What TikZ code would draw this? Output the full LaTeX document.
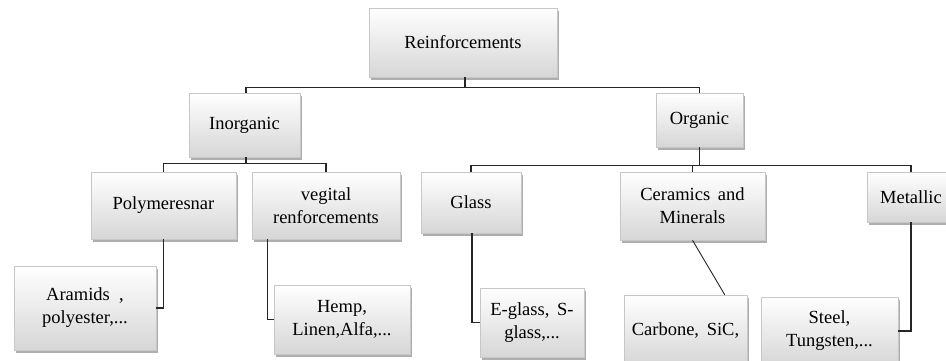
\documentclass[tikz,border=0pt]{standalone}
\usepackage{fontspec}
\setmainfont{Liberation Serif}
\usetikzlibrary{shadows}
\begin{document}
\begin{tikzpicture}[x=1pt,y=-1pt,
  box/.style={draw=black!22, line width=0.5pt, top color=white, bottom color=black!16,
    align=center, inner sep=2pt,
    font=\fontsize{18.5}{23}\selectfont,
    drop shadow={shadow xshift=1.5pt, shadow yshift=-3pt, opacity=0.45, fill=black!70}},
  link/.style={draw=black!85, line width=1.2pt}]
\clip (0,0) rectangle (946,360);
\fill[white] (0,0) rectangle (946,360);

% level 1
\node[box, minimum width=188pt, minimum height=69pt] (R) at (463,42.5) {Reinforcements};
% level 2
\node[box, minimum width=111pt, minimum height=64pt] (I) at (244.5,125) {Inorganic};
\node[box, minimum width=87pt, minimum height=54pt] (O) at (699.5,120) {Organic};
% level 3
\node[box, minimum width=145pt, minimum height=67pt] (P) at (163.5,205.5) {Polymeresnar};
\node[box, minimum width=148pt, minimum height=67pt] (V) at (326,205.5) {vegital\\renforcements};
\node[box, minimum width=100pt, minimum height=61pt] (G) at (471,202.5) {Glass};
\node[box, minimum width=145pt, minimum height=68pt] (C) at (692.5,206) {Ceramics\, and\\Minerals};
\node[box, minimum width=88pt, minimum height=50pt] (M) at (911,197) {Metallic};
% level 4
\node[box, minimum width=142pt, minimum height=84pt] (A) at (85,308) {Aramids\ \ ,\\polyester,...};
\node[box, minimum width=136pt, minimum height=69pt] (H) at (342,319.5) {Hemp,\\Linen,Alfa,...};
\node[box, minimum width=104pt, minimum height=69pt] (E) at (532,322.5) {E-glass,\, S-\\glass,...};
\node[box, minimum width=123pt, minimum height=70pt] (K) at (685.5,330) {Carbone,\, SiC,};
\node[box, minimum width=137pt, minimum height=68pt] (S) at (829.5,331) {Steel,\\Tungsten,...};

% tree connectors
\draw[link] ([xshift=2pt]R.south) -- ++(0,10) coordinate (r1);
\draw[link] ([xshift=1.5pt]I.north) |- (r1) -| (O.north);
\draw[link] ([xshift=1.5pt]I.south) -- ++(0,6) coordinate (i1);
\draw[link] (P.north) |- (i1) -| (V.north);
\draw[link] (O.south) -- ++(0,18) coordinate (o1);
\draw[link] (G.north) |- (o1) -| (M.north);
\draw[link] (C.north) -- (C.north |- o1);

% leaf connectors
\draw[link] (P.south) |- (A.east);
\draw[link] ([xshift=16pt]V.south west) |- (H.west);
\draw[link] ([xshift=1pt]G.south) |- (E.west);
\draw[link, line width=0.9pt] (C.south) -- ([xshift=101pt]K.north west);
\draw[link] (M.south) |- (S.east);
\end{tikzpicture}
\end{document}
